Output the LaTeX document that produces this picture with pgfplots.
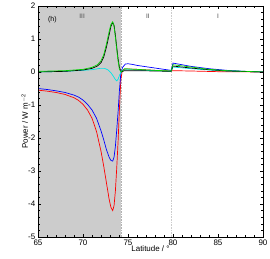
\documentclass[border=0pt]{standalone}
\usepackage{pgfplots}
\pgfplotsset{compat=1.18}
\usepackage{fontspec}
\setmainfont{Liberation Sans}
\definecolor{shade}{RGB}{204,204,204}
\definecolor{mygreen}{RGB}{0,210,0}
\definecolor{mycyan}{RGB}{0,230,230}
\begin{document}
\fontsize{7.5}{8}\selectfont
\begin{tikzpicture}
\begin{axis}[
  scale only axis, width=225bp, height=231bp,
  xmin=65, xmax=90, ymin=-5, ymax=2,
  xtick={65,70,...,90}, ytick={-5,...,2},
  minor x tick num=4, minor y tick num=4,
  tick align=inside, tick pos=both,
  major tick length=3pt, minor tick length=1.6pt,
  tick style={black, line width=0.4pt},
  /pgf/number format/assume math mode=true,
  yticklabel={\pgfmathprintnumber[assume math mode=true]{\tick}},
  ticklabel style={font=\fontsize{8}{9}\selectfont},
  xlabel={Latitude / °}, ylabel={Power / W m\raisebox{0.6ex}{\fontsize{5.5}{6}\selectfont $-$2}},
  label style={font=\fontsize{8}{9}\selectfont},
  xlabel style={yshift=5pt}, ylabel style={yshift=-5pt},
  clip=true, axis on top,
]
\addplot[fill=shade, draw=none] coordinates {(65,-5) (74.2,-5) (74.2,2) (65,2)};
\addplot[gray!60, densely dotted, line width=0.6pt] coordinates {(74.2,-5) (74.2,2)};
\addplot[gray!40, densely dotted, line width=0.6pt] coordinates {(79.8,-5) (79.8,2)};
% red
\addplot[red, line width=0.7pt] coordinates {
(65,-0.55) (66,-0.58) (67,-0.62) (68,-0.68) (69,-0.78) (69.5,-0.86) (70,-0.98) (70.5,-1.15) (71,-1.4) (71.5,-1.8) (72,-2.4) (72.3,-2.85) (72.6,-3.35) (72.9,-3.85) (73.1,-4.1) (73.3,-4.2) (73.45,-4.05) (73.6,-3.6) (73.75,-2.9) (73.9,-2.1) (74.05,-1.1) (74.2,-0.25) (74.35,0.02) (74.6,0.08) (75,0.09) (76,0.08) (78,0.05) (79.8,0.03) (80,0.04) (82,0.03) (85,0.01) (90,0)};
% blue
\addplot[blue, line width=0.7pt] coordinates {
(65,-0.5) (66,-0.53) (67,-0.57) (68,-0.62) (69,-0.7) (69.5,-0.76) (70,-0.85) (70.5,-0.98) (71,-1.15) (71.5,-1.4) (72,-1.78) (72.3,-2.05) (72.6,-2.35) (72.9,-2.58) (73.1,-2.68) (73.3,-2.7) (73.45,-2.58) (73.6,-2.25) (73.75,-1.75) (73.9,-1.2) (74.05,-0.55) (74.2,-0.05) (74.4,0.14) (74.7,0.24) (75,0.25) (75.5,0.23) (76,0.2) (77,0.16) (78,0.12) (79,0.08) (79.8,0.05) (80,0.27) (81,0.22) (82,0.17) (84,0.1) (86,0.05) (88,0.02) (90,0)};
% cyan
\addplot[mycyan, line width=0.7pt] coordinates {
(65,0.0) (68,0.02) (70,0.05) (71,0.07) (71.9,0.11) (72.4,0.11) (72.8,0.06) (73.1,-0.02) (73.4,-0.14) (73.6,-0.23) (73.75,-0.27) (73.9,-0.22) (74.05,-0.1) (74.25,0.0) (74.5,0.06) (75,0.07) (76,0.06) (78,0.04) (79.8,0.02) (80,0.15) (82,0.1) (84,0.06) (86,0.03) (90,0)};
% black
\addplot[black, line width=0.7pt] coordinates {
(65,0.0) (68,0.02) (70,0.06) (71,0.11) (71.6,0.18) (72,0.28) (72.3,0.45) (72.6,0.75) (72.9,1.12) (73.1,1.38) (73.3,1.5) (73.45,1.42) (73.6,1.12) (73.75,0.75) (73.9,0.4) (74.05,0.14) (74.25,0.0) (74.6,0.04) (76,0.04) (78,0.03) (79.8,0.02) (80,0.18) (82,0.12) (84,0.07) (86,0.03) (90,0)};
% green
\addplot[mygreen, line width=0.7pt] coordinates {
(65,0.02) (68,0.04) (70,0.08) (71,0.14) (71.6,0.22) (72,0.34) (72.3,0.52) (72.6,0.84) (72.9,1.22) (73.1,1.44) (73.3,1.52) (73.45,1.38) (73.6,1.05) (73.75,0.68) (73.9,0.33) (74.05,0.08) (74.25,0.0) (74.6,0.1) (76,0.08) (78,0.05) (79.8,0.03) (80,0.22) (82,0.15) (84,0.08) (86,0.04) (90,0)};
\node[gray!60!black, font=\fontsize{6.5}{7}\selectfont] at (axis cs:69.9,1.68) {III};
\node[gray!60!black, font=\fontsize{6.5}{7}\selectfont] at (axis cs:77.2,1.68) {II};
\node[gray!60!black, font=\fontsize{6.5}{7}\selectfont] at (axis cs:85,1.68) {I};
\node[black, font=\fontsize{7}{8}\selectfont] at (axis cs:66.6,1.58) {(h)};
\end{axis}
\pgfresetboundingbox
\path ([shift={(-38bp,-22bp)}]current axis.south west) rectangle ([shift={(7bp,6bp)}]current axis.north east);
\end{tikzpicture}
\end{document}
